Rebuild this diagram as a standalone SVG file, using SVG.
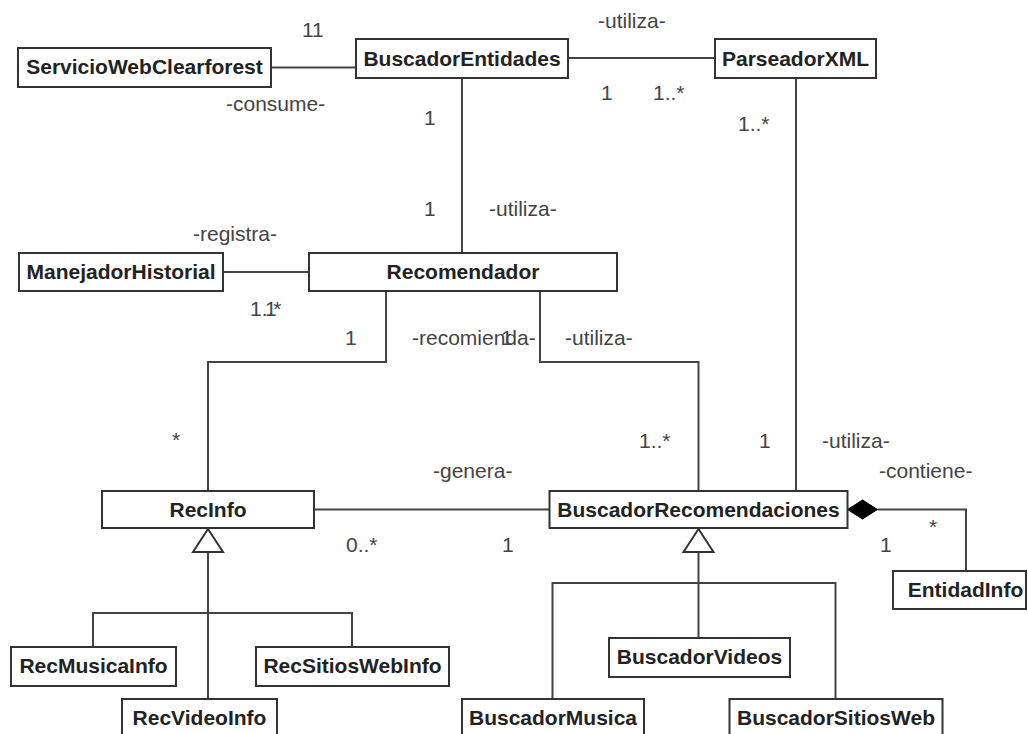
<svg xmlns="http://www.w3.org/2000/svg" width="1028" height="734" viewBox="0 0 1028 734">
<style>
.box{fill:#fff;stroke:#333;stroke-width:2}
.name{font-family:"Liberation Sans",Arial,sans-serif;font-size:21px;font-weight:bold;fill:#222;text-anchor:middle}
.lbl{font-family:"Liberation Sans",Arial,sans-serif;font-size:21px;fill:#444}
.ln{fill:none;stroke:#444;stroke-width:2}
.gen{fill:#fff;stroke:#333;stroke-width:2}
.comp{fill:#000;stroke:#000;stroke-width:1}
</style>
<rect width="1028" height="734" fill="#fff"/>
<g id="connectors">
<line class="ln" x1="271" y1="67.5" x2="356" y2="67.5"/>
<line class="ln" x1="568" y1="58" x2="715" y2="58"/>
<line class="ln" x1="462" y1="78" x2="462" y2="253"/>
<line class="ln" x1="796" y1="78" x2="796" y2="491"/>
<line class="ln" x1="223" y1="272" x2="309" y2="272"/>
<polyline class="ln" points="386,291 386,362 208,362 208,491"/>
<polyline class="ln" points="540,291 540,362 698.5,362 698.5,491"/>
<line class="ln" x1="314" y1="509.5" x2="549.5" y2="509.5"/>
<polyline class="ln" points="877.5,509.5 966,509.5 966,571"/>
<polygon class="comp" points="847.5,509.5 862.5,500 877.5,509.5 862.5,519"/>
<line class="ln" x1="208" y1="552" x2="208" y2="699"/>
<polyline class="ln" points="93,647 93,613 352,613 352,647"/>
<polygon class="gen" points="208,529 193,552 223,552"/>
<line class="ln" x1="698.5" y1="552" x2="698.5" y2="638"/>
<polyline class="ln" points="552.5,699 552.5,583 835.5,583 835.5,699"/>
<polygon class="gen" points="698.5,529 683.5,552 713.5,552"/>
</g>
<g id="labels">
<text class="lbl" x="302" y="37">11</text>
<text class="lbl" x="226" y="111">-consume-</text>
<text class="lbl" x="424" y="125">1</text>
<text class="lbl" x="598" y="28">-utiliza-</text>
<text class="lbl" x="601" y="100">1</text>
<text class="lbl" x="653" y="100">1..*</text>
<text class="lbl" x="738" y="131">1..*</text>
<text class="lbl" x="424" y="216">1</text>
<text class="lbl" x="489" y="216">-utiliza-</text>
<text class="lbl" x="193" y="241">-registra-</text>
<text class="lbl" x="250" y="316">1..*</text>
<text class="lbl" x="265" y="316">1</text>
<text class="lbl" x="345" y="345">1</text>
<text class="lbl" x="412" y="345">-recomienda-</text>
<text class="lbl" x="501" y="345">1</text>
<text class="lbl" x="565" y="345">-utiliza-</text>
<text class="lbl" x="172" y="447">*</text>
<text class="lbl" x="433" y="478">-genera-</text>
<text class="lbl" x="639" y="448">1..*</text>
<text class="lbl" x="759" y="448">1</text>
<text class="lbl" x="822" y="448">-utiliza-</text>
<text class="lbl" x="879" y="478">-contiene-</text>
<text class="lbl" x="346" y="552">0..*</text>
<text class="lbl" x="502" y="552">1</text>
<text class="lbl" x="880" y="552">1</text>
<text class="lbl" x="929" y="534">*</text>
</g>
<g id="ServicioWebClearforest"><rect class="box" x="18" y="48" width="253" height="39"/><text class="name" x="144.5" y="74">ServicioWebClearforest</text></g>
<g id="BuscadorEntidades"><rect class="box" x="356" y="39" width="212" height="39"/><text class="name" x="462" y="65.5">BuscadorEntidades</text></g>
<g id="ParseadorXML"><rect class="box" x="715" y="39" width="161" height="39"/><text class="name" x="795.5" y="65.5">ParseadorXML</text></g>
<g id="ManejadorHistorial"><rect class="box" x="19" y="253" width="204" height="38"/><text class="name" x="121" y="279">ManejadorHistorial</text></g>
<g id="Recomendador"><rect class="box" x="309" y="253" width="308" height="38"/><text class="name" x="463" y="279">Recomendador</text></g>
<g id="RecInfo"><rect class="box" x="102" y="491" width="212" height="37"/><text class="name" x="208" y="517">RecInfo</text></g>
<g id="BuscadorRecomendaciones"><rect class="box" x="549.5" y="491" width="298" height="37"/><text class="name" x="698.5" y="517">BuscadorRecomendaciones</text></g>
<g id="EntidadInfo"><rect class="box" x="893" y="571" width="133" height="38"/><text class="name" x="965.5" y="597">EntidadInfo</text></g>
<g id="RecMusicaInfo"><rect class="box" x="11" y="647" width="165" height="39"/><text class="name" x="93.5" y="673">RecMusicaInfo</text></g>
<g id="RecSitiosWebInfo"><rect class="box" x="256" y="647" width="193" height="39"/><text class="name" x="352.5" y="673">RecSitiosWebInfo</text></g>
<g id="RecVideoInfo"><rect class="box" x="122" y="699" width="155" height="40"/><text class="name" x="199.5" y="725">RecVideoInfo</text></g>
<g id="BuscadorVideos"><rect class="box" x="609" y="638" width="181" height="39"/><text class="name" x="699.5" y="664">BuscadorVideos</text></g>
<g id="BuscadorMusica"><rect class="box" x="462" y="699" width="182" height="40"/><text class="name" x="553" y="725">BuscadorMusica</text></g>
<g id="BuscadorSitiosWeb"><rect class="box" x="729.5" y="699" width="213" height="40"/><text class="name" x="836" y="725">BuscadorSitiosWeb</text></g>
</svg>
